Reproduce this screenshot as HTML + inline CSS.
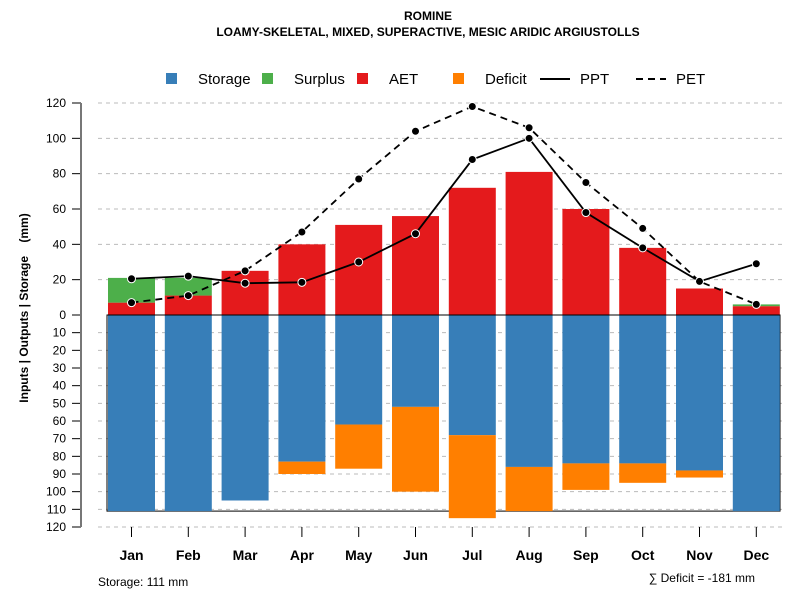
<!DOCTYPE html>
<html><head><meta charset="utf-8"><style>
body{margin:0;background:#fff;font-family:"Liberation Sans",sans-serif}
</style></head><body>
<svg id="c" width="800" height="600" xmlns="http://www.w3.org/2000/svg" font-family="Liberation Sans, sans-serif">
<text x="428" y="20" text-anchor="middle" font-size="12" font-weight="bold">ROMINE</text>
<text x="428" y="36" text-anchor="middle" font-size="12" font-weight="bold">LOAMY-SKELETAL, MIXED, SUPERACTIVE, MESIC ARIDIC ARGIUSTOLLS</text>
<g font-size="15">
<rect x="166" y="73" width="11" height="11" fill="#377eb8"/><text x="198" y="84">Storage</text>
<rect x="262" y="73" width="11" height="11" fill="#4daf4a"/><text x="294" y="84">Surplus</text>
<rect x="357" y="73" width="11" height="11" fill="#e41a1c"/><text x="389" y="84">AET</text>
<rect x="453" y="73" width="11" height="11" fill="#ff7f00"/><text x="485" y="84">Deficit</text>
<line x1="540" y1="79" x2="570" y2="79" stroke="#000" stroke-width="2"/><text x="580" y="84">PPT</text>
<line x1="636" y1="79" x2="666" y2="79" stroke="#000" stroke-width="2" stroke-dasharray="7,5"/><text x="676" y="84">PET</text>
</g>
<text transform="translate(28,308) rotate(-90)" text-anchor="middle" font-size="12" font-weight="bold" style="white-space:pre">Inputs | Outputs | Storage    (mm)</text>
<text x="98" y="586" font-size="12">Storage: 111 mm</text>
<text x="755" y="582" text-anchor="end" font-size="12">∑ Deficit = -181 mm</text>
<g id="g"></g>
</svg>
<script>
const months=["Jan","Feb","Mar","Apr","May","Jun","Jul","Aug","Sep","Oct","Nov","Dec"];
const aet=[7,11,25,40,51,56,72,81,60,38,15,5];
const surplus=[14,10,0,0,0,0,0,0,0,0,0,1];
const storage=[111,111,105,83,62,52,68,86,84,84,88,111];
const deficit=[0,0,0,7,25,48,47,25,15,11,4,0];
const ppt=[20.5,22,18,18.5,30,46,88,100,58,38,19,29];
const pet=[7,11,25,47,77,104,118,106,75,49,19,6];
const upTicks=[0,20,40,60,80,100,120];
const downTicks=[10,20,30,40,50,60,70,80,90,100,110,120];
const NS="http://www.w3.org/2000/svg",g=document.getElementById("g");
const Y0=315,K=212/120;
const yUp=v=>Y0-v*K, yDn=v=>Y0+v*K, xC=i=>131.5+i*56.8, BW=47;
function el(t,a){const e=document.createElementNS(NS,t);for(const k in a)e.setAttribute(k,a[k]);g.appendChild(e);return e;}
upTicks.forEach(v=>{const y=yUp(v);
 if(v>0){const l=el("line",{x1:98,x2:785,y1:y,y2:y,stroke:"#bbb","stroke-dasharray":"4,4"});}
 const t=el("line",{x1:72,x2:81,y1:y,y2:y,stroke:"#000"});
 const s=el("text",{x:66,y:y+4,"text-anchor":"end","font-size":12});s.textContent=v;});
downTicks.forEach(v=>{const y=yDn(v);
 const l=el("line",{x1:98,x2:785,y1:y,y2:y,stroke:"#bbb","stroke-dasharray":"4,4"});
 const t=el("line",{x1:72,x2:81,y1:y,y2:y,stroke:"#000"});
 const s=el("text",{x:66,y:y+4,"text-anchor":"end","font-size":12});s.textContent=v;});
const ax=el("line",{x1:81,x2:81,y1:yUp(120),y2:yDn(120),stroke:"#777","stroke-width":2});

const box=el("rect",{x:107,y:Y0,width:673,height:111*K,fill:"none",stroke:"#000"});

months.forEach((m,i)=>{const x=xC(i)-BW/2;
 let r=el("rect",{x,y:Y0,width:BW,height:storage[i]*K,fill:"#377eb8"});
 if(deficit[i]>0){r=el("rect",{x,y:yDn(storage[i]),width:BW,height:deficit[i]*K,fill:"#ff7f00"});}
 r=el("rect",{x,y:yUp(aet[i]),width:BW,height:aet[i]*K,fill:"#e41a1c"});
 if(surplus[i]>0){r=el("rect",{x,y:yUp(aet[i]+surplus[i]),width:BW,height:surplus[i]*K,fill:"#4daf4a"});}
 const t=el("line",{x1:xC(i),x2:xC(i),y1:527,y2:537,stroke:"#000"});
 const s=el("text",{x:xC(i),y:560,"text-anchor":"middle","font-size":14,"font-weight":"bold"});s.textContent=m;});
const base=el("line",{x1:107,x2:780,y1:Y0,y2:Y0,stroke:"#000"});
function series(arr,dash,name){
 const p=el("polyline",{points:arr.map((v,i)=>xC(i)+","+yUp(v)).join(" "),fill:"none",stroke:"#000","stroke-width":1.8});
 if(dash)p.setAttribute("stroke-dasharray","7,5");
 
 arr.forEach((v,i)=>{const c=el("circle",{cx:xC(i),cy:yUp(v),r:4,fill:"#000",stroke:"#fff","stroke-width":1});});}
series(pet,true,"pet");series(ppt,false,"ppt");
</script>
</body></html>
